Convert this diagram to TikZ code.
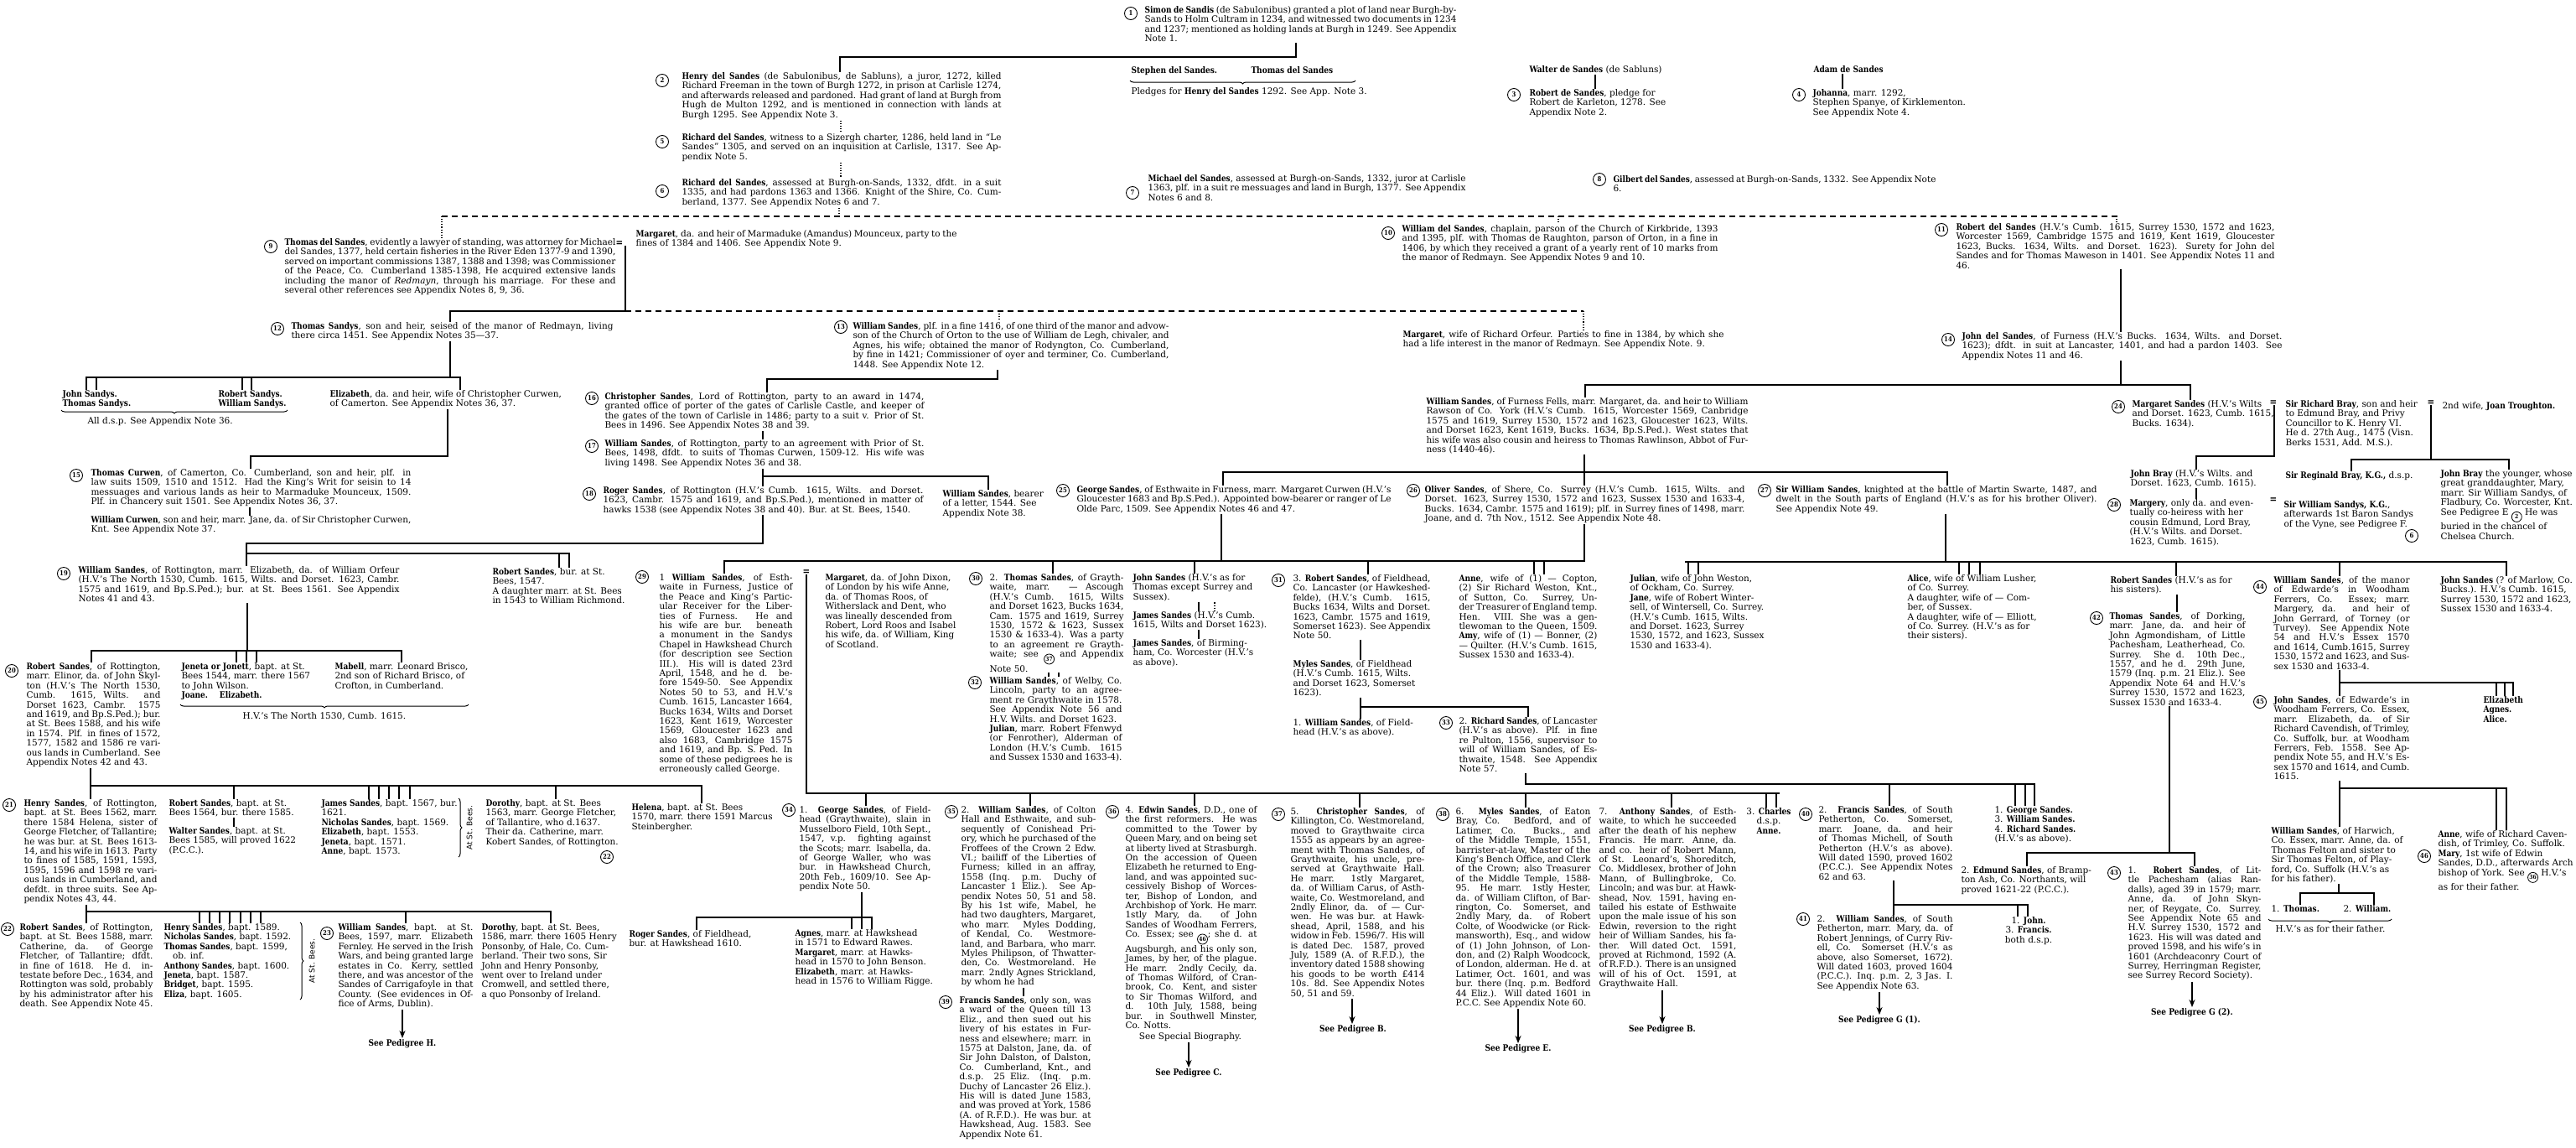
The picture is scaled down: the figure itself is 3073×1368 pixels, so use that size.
\documentclass[tikz,border=0pt]{standalone}
\usepackage{fontspec}
\setmainfont{DejaVu Serif}[BoldFeatures={FakeStretch=0.86}]
\newfontfamily\sansf{DejaVu Sans}
\usetikzlibrary{decorations.pathreplacing,arrows.meta}
\newcommand\pfont{\fontsize{10.5}{11.4}\selectfont\tolerance=9999\emergencystretch=6pt\hyphenpenalty=20\relax}
\newcommand\cnum[1]{\tikz[baseline=-3pt]\node[draw,circle,inner sep=0.3pt,minimum size=12pt,line width=0.8pt,font=\fontsize{7}{7}\selectfont\bfseries]{#1};}
\newcommand\Pdrop[3]{\coordinate (q) at (#1,#2);\draw[ln] (q) -- (q |- #3.north);}
\newcommand\Prise[3]{\coordinate (q) at (#1,#2);\draw[ln] (q |- #3.south) -- (q);}
\newcommand\Pvv[3]{\coordinate (q) at (#1,0);\draw[ln] (q |- #2.south) -- (q |- #3.north);}
\newcommand\Pbus[3]{\coordinate (qa) at (#1,#3);\coordinate (qb) at (#2,#3);\draw[ln] (qa) -- (qb);}
\newcommand\Parr[3]{\coordinate (q) at (#1,0);\draw[arr] (q |- #2.south) -- (q |- #3.north);}
\begin{document}
\begin{tikzpicture}[x=1pt,y=-1pt,
 txt/.style={anchor=north west,inner sep=0pt,outer sep=1.5pt,text width=#1pt,align=justify,font=\pfont},
 lft/.style={anchor=north west,inner sep=0pt,outer sep=1.5pt,align=left,font=\pfont},
 ctr/.style={anchor=north,inner sep=0pt,outer sep=1.5pt,align=center,font=\pfont},
 num/.style={draw,circle,inner sep=0pt,minimum size=15pt,line width=0.9pt,font=\fontsize{8}{8}\selectfont\bfseries},
 eq/.style={inner sep=0pt,font=\fontsize{12}{12}\selectfont\bfseries},
 ln/.style={line width=1.2pt,line cap=rect},
 dsh/.style={line width=1.2pt,dash pattern=on 7pt off 5pt},
 dtt/.style={line width=1.1pt,dotted},
 brc/.style={decorate,decoration={brace,mirror,amplitude=4pt},line width=1pt},
 vbrc/.style={decorate,decoration={brace,amplitude=4pt},line width=1pt},
 arr/.style={line width=1.3pt,-{Stealth[length=9pt,width=7pt]}},
 rot/.style={rotate=90,inner sep=0pt,font=\sansf\fontsize{9}{9}\selectfont}]
\fill[white] (0,0) rectangle (3073,1368);
\useasboundingbox (0,0) rectangle (3073,1368);

% ---------------- early generations
\node[num] (c1) at (1349,16) {1};
\node[txt=372] (n1) at (1364,6) {\textbf{Simon de Sandis} (de Sabulonibus) granted a plot of land near Burgh-by-Sands to Holm Cultram in 1234, and witnessed two documents in 1234 and 1237; mentioned as holding lands at Burgh in 1249. See Appendix Note 1.};
\node[lft] (st) at (1348,78) {\textbf{Stephen del Sandes.}};
\node[lft] (th) at (1491,78) {\textbf{Thomas del Sandes}};
\node[lft] (pl) at (1348,103) {Pledges for \textbf{Henry del Sandes} 1292. See App. Note 3.};
\node[lft] (wa) at (1823,77) {\textbf{Walter de Sandes} (de Sabluns)};
\node[num] (c3) at (1806,113) {3};
\node[lft] (n3) at (1823,105) {\textbf{Robert de Sandes}, pledge for\\Robert de Karleton, 1278. See\\Appendix Note 2.};
\node[lft] (ad) at (2162,77) {\textbf{Adam de Sandes}};
\node[num] (c4) at (2146,113) {4};
\node[lft] (n4) at (2161,105) {\textbf{Johanna}, marr. 1292,\\Stephen Spanye, of Kirklementon.\\See Appendix Note 4.};
\node[num] (c2) at (790,96) {2};
\node[txt=381] (n2) at (812,85) {\textbf{Henry del Sandes} (de Sabulonibus, de Sabluns), a juror, 1272, killed Richard Freeman in the town of Burgh 1272, in prison at Carlisle 1274, and afterwards released and pardoned. Had grant of land at Burgh from Hugh de Multon 1292, and is mentioned in connection with lands at Burgh 1295. See Appendix Note 3.};
\node[num] (c5) at (790,169) {5};
\node[txt=381] (n5) at (812,158) {\textbf{Richard del Sandes}, witness to a Sizergh charter, 1286, held land in “Le Sandes” 1305, and served on an inquisition at Carlisle, 1317. See Appendix Note 5.};
\node[num] (c6) at (790,228) {6};
\node[txt=381] (n6) at (812,212) {\textbf{Richard del Sandes}, assessed at Burgh-on-Sands, 1332, dfdt. in a suit 1335, and had pardons 1363 and 1366. Knight of the Shire, Co. Cumberland, 1377. See Appendix Notes 6 and 7.};
\node[num] (c7) at (1351,230) {7};
\node[txt=379] (n7) at (1368,207) {\textbf{Michael del Sandes}, assessed at Burgh-on-Sands, 1332, juror at Carlisle 1363, plf. in a suit re messuages and land in Burgh, 1377. See Appendix Notes 6 and 8.};
\node[num] (c8) at (1908,214) {8};
\node[txt=385] (n8) at (1923,208) {\textbf{Gilbert del Sandes}, assessed at Burgh-on-Sands, 1332. See Appendix Note 6.};

\node[num] (c9) at (323,294) {9};
\node[txt=395] (n9) at (338,283) {\textbf{Thomas del Sandes}, evidently a lawyer of standing, was attorney for Michael del Sandes, 1377, held certain fisheries in the River Eden 1377-9 and 1390, served on important commissions 1387, 1388 and 1398; was Commissioner of the Peace, Co. Cumberland 1385-1398, He acquired extensive lands including the manor of \textit{Redmayn}, through his marriage. For these and several other references see Appendix Notes 8, 9, 36.};
\node[eq] (e9) at (739,291) {=};
\node[txt=383] (mm9) at (757,273) {\textbf{Margaret}, da. and heir of Marmaduke (Amandus) Mounceux, party to the fines of 1384 and 1406. See Appendix Note 9.};
\node[num] (c10) at (1656,278) {10};
\node[txt=377] (n10) at (1671,267) {\textbf{William del Sandes}, chaplain, parson of the Church of Kirkbride, 1393 and 1395, plf. with Thomas de Raughton, parson of Orton, in a fine in 1406, by which they received a grant of a yearly rent of 10 marks from the manor of Redmayn. See Appendix Notes 9 and 10.};
\node[num] (c11) at (2316,274) {11};
\node[txt=380] (n11) at (2332,265) {\textbf{Robert del Sandes} (H.V.'s Cumb. 1615, Surrey 1530, 1572 and 1623, Worcester 1569, Cambridge 1575 and 1619, Kent 1619, Gloucester 1623, Bucks. 1634, Wilts. and Dorset. 1623). Surety for John del Sandes and for Thomas Maweson in 1401. See Appendix Notes 11 and 46.};
\node[num] (c12) at (331,392) {12};
\node[txt=384] (n12) at (346,383) {\textbf{Thomas Sandys}, son and heir, seised of the manor of Redmayn, living there circa 1451. See Appendix Notes 35—37.};
\node[num] (c13) at (1003,390) {13};
\node[txt=377] (n13) at (1016,383) {\textbf{William Sandes}, plf. in a fine 1416, of one third of the manor and advowson of the Church of Orton to the use of William de Legh, chivaler, and Agnes, his wife; obtained the manor of Rodyngton, Co. Cumberland, by fine in 1421; Commissioner of oyer and terminer, Co. Cumberland, 1448. See Appendix Note 12.};
\node[txt=383] (mo) at (1672,393) {\textbf{Margaret}, wife of Richard Orfeur. Parties to fine in 1384, by which she had a life interest in the manor of Redmayn. See Appendix Note. 9.};
\node[num] (c14) at (2324,405) {14};
\node[txt=382] (n14) at (2339,395) {\textbf{John del Sandes}, of Furness (H.V.'s Bucks. 1634, Wilts. and Dorset. 1623); dfdt. in suit at Lancaster, 1401, and had a pardon 1403. See Appendix Notes 11 and 46.};

% ---------------- Rottington / Curwen
\node[lft] (jt) at (73,464) {\textbf{John Sandys.}\\\textbf{Thomas Sandys.}};
\node[lft] (rw) at (259,464) {\textbf{Robert Sandys.}\\\textbf{William Sandys.}};
\node[lft] (adsp) at (103,496) {All d.s.p. See Appendix Note 36.};
\node[lft] (el) at (392,464) {\textbf{Elizabeth}, da. and heir, wife of Christopher Curwen,\\of Camerton. See Appendix Notes 36, 37.};
\node[num] (c16) at (706,475) {16};
\node[txt=381] (n16) at (720,467) {\textbf{Christopher Sandes}, Lord of Rottington, party to an award in 1474, granted office of porter of the gates of Carlisle Castle, and keeper of the gates of the town of Carlisle in 1486; party to a suit v. Prior of St. Bees in 1496. See Appendix Notes 38 and 39.};
\node[num] (c17) at (706,532) {17};
\node[txt=381] (n17) at (720,523) {\textbf{William Sandes}, of Rottington, party to an agreement with Prior of St. Bees, 1498, dfdt. to suits of Thomas Curwen, 1509-12. His wife was living 1498. See Appendix Notes 36 and 38.};
\node[num] (c18) at (703,589) {18};
\node[txt=382] (n18) at (718,579) {\textbf{Roger Sandes}, of Rottington (H.V.'s Cumb. 1615, Wilts. and Dorset. 1623, Cambr. 1575 and 1619, and Bp.S.Ped.), mentioned in matter of hawks 1538 (see Appendix Notes 38 and 40). Bur. at St. Bees, 1540.};
\node[lft] (wsb) at (1123,583) {\textbf{William Sandes}, bearer\\of a letter, 1544. See\\Appendix Note 38.};
\node[num] (c15) at (91,567) {15};
\node[txt=382] (n15) at (107,558) {\textbf{Thomas Curwen}, of Camerton, Co. Cumberland, son and heir, plf. in law suits 1509, 1510 and 1512. Had the King's Writ for seisin to 14 messuages and various lands as heir to Marmaduke Mounceux, 1509. Plf. in Chancery suit 1501. See Appendix Notes 36, 37.};
\node[txt=382] (wc) at (107,614) {\textbf{William Curwen}, son and heir, marr. Jane, da. of Sir Christopher Curwen, Knt. See Appendix Note 37.};
\node[num] (c19) at (76,684) {19};
\node[txt=383] (n19) at (92,674) {\textbf{William Sandes}, of Rottington, marr. Elizabeth, da. of William Orfeur (H.V.'s The North 1530, Cumb. 1615, Wilts. and Dorset. 1623, Cambr. 1575 and 1619, and Bp.S.Ped.); bur. at St. Bees 1561. See Appendix Notes 41 and 43.};
\node[lft] (rsb) at (586,676) {\textbf{Robert Sandes}, bur. at St.\\Bees, 1547.\\A daughter marr. at St. Bees\\in 1543 to William Richmond.};
\node[num] (c20) at (14,800) {20};
\node[txt=160] (n20) at (30,789) {\textbf{Robert Sandes}, of Rottington, marr. Elinor, da. of John Skylton (H.V.'s The North 1530, Cumb. 1615, Wilts. and Dorset 1623, Cambr. 1575 and 1619, and Bp.S.Ped.); bur. at St. Bees 1588, and his wife in 1574. Plf. in fines of 1572, 1577, 1582 and 1586 re various lands in Cumberland. See Appendix Notes 42 and 43.};
\node[lft] (jen) at (215,789) {\textbf{Jeneta or Jonett}, bapt. at St.\\Bees 1544, marr. there 1567\\to John Wilson.\\\textbf{Joane.}\quad\ \textbf{Elizabeth.}};
\node[lft] (mab) at (398,789) {\textbf{Mabell}, marr. Leonard Brisco,\\2nd son of Richard Brisco, of\\Crofton, in Cumberland.};
\node[ctr] (hv1) at (387,848) {H.V.'s The North 1530, Cumb. 1615.};
\node[num] (c21) at (11,960) {21};
\node[txt=159] (n21) at (27,952) {\textbf{Henry Sandes}, of Rottington, bapt. at St. Bees 1562, marr. there 1584 Helena, sister of George Fletcher, of Tallantire; he was bur. at St. Bees 1613-14, and his wife in 1613. Party to fines of 1585, 1591, 1593, 1595, 1596 and 1598 re various lands in Cumberland, and defdt. in three suits. See Appendix Notes 43, 44.};
\node[lft] (rs2) at (200,952) {\textbf{Robert Sandes}, bapt. at St.\\Bees 1564, bur. there 1585.};
\node[lft] (wal) at (200,985) {\textbf{Walter Sandes}, bapt. at St.\\Bees 1585, will proved 1622\\(P.C.C.).};
\node[lft] (jam) at (382,952) {\textbf{James Sandes}, bapt. 1567, bur.\\1621.\\\textbf{Nicholas Sandes}, bapt. 1569.\\\textbf{Elizabeth}, bapt. 1553.\\\textbf{Jeneta}, bapt. 1571.\\\textbf{Anne}, bapt. 1573.};
\node[rot] (asb1) at (560,987) {At St. Bees.};
\node[lft] (dor1) at (578,952) {\textbf{Dorothy}, bapt. at St. Bees\\1563, marr. George Fletcher,\\of Tallantire, who d.1637.\\Their da. Catherine, marr.\\Kobert Sandes, of Rottington.};
\node[num] (c22b) at (724,1022) {22};
\node[lft] (hel) at (752,957) {\textbf{Helena}, bapt. at St. Bees\\1570, marr. there 1591 Marcus\\Steinbergher.};
\node[num] (c22) at (9,1108) {22};
\node[txt=159] (n22) at (22,1100) {\textbf{Robert Sandes}, of Rottington, bapt. at St. Bees 1588, marr. Catherine, da. of George Fletcher, of Tallantire; dfdt. in fine of 1618. He d. intestate before Dec., 1634, and Rottington was sold, probably by his administrator after his death. See Appendix Note 45.};
\node[lft] (hen) at (194,1100) {\textbf{Henry Sandes}, bapt. 1589.\\\textbf{Nicholas Sandes}, bapt. 1592.\\\textbf{Thomas Sandes}, bapt. 1599,\\\quad ob. inf.\\\textbf{Anthony Sandes}, bapt. 1600.\\\textbf{Jeneta}, bapt. 1587.\\\textbf{Bridget}, bapt. 1595.\\\textbf{Eliza}, bapt. 1605.};
\node[rot] (asb2) at (372,1146) {At St. Bees.};
\node[num] (c23) at (390,1113) {23};
\node[txt=161] (n23) at (402,1100) {\textbf{William Sandes}, bapt. at St. Bees, 1597, marr. Elizabeth Fernley. He served in the Irish Wars, and being granted large estates in Co. Kerry, settled there, and was ancestor of the Sandes of Carrigafoyle in that County. (See evidences in Office of Arms, Dublin).};
\node[ctr] (ph) at (480,1238) {\textbf{See Pedigree H.}};
\node[lft] (dor2) at (573,1100) {\textbf{Dorothy}, bapt. at St. Bees,\\1586, marr. there 1605 Henry\\Ponsonby, of Hale, Co. Cum-\\berland. Their two sons, Sir\\John and Henry Ponsonby,\\went over to Ireland under\\Cromwell, and settled there,\\a quo Ponsonby of Ireland.};
\node[lft] (rog) at (749,1108) {\textbf{Roger Sandes}, of Fieldhead,\\bur. at Hawkshead 1610.};

% ---------------- Furness
\node[txt=384] (ff) at (1700,473) {\textbf{William Sandes}, of Furness Fells, marr. Margaret, da. and heir to William Rawson of Co. York (H.V.'s Cumb. 1615, Worcester 1569, Canbridge 1575 and 1619, Surrey 1530, 1572 and 1623, Gloucester 1623, Wilts. and Dorset 1623, Kent 1619, Bucks. 1634, Bp.S.Ped.). West states that his wife was also cousin and heiress to Thomas Rawlinson, Abbot of Furness (1440-46).};
\node[num] (c24) at (2527,485) {24};
\node[lft] (n24) at (2542,476) {\textbf{Margaret Sandes} (H.V.'s Wilts\\and Dorset. 1623, Cumb. 1615,\\Bucks. 1634).};
\node[eq] (e24) at (2712,481) {=};
\node[lft] (srb) at (2725,476) {\textbf{Sir Richard Bray}, son and heir\\to Edmund Bray, and Privy\\Councillor to K. Henry VI.\\He d. 27th Aug., 1475 (Visn.\\Berks 1531, Add. M.S.).};
\node[eq] (e2) at (2900,481) {=};
\node[lft] (jt2) at (2912,478) {2nd wife, \textbf{Joan Troughton.}};
\node[lft] (jb) at (2540,559) {\textbf{John Bray} (H.V.'s Wilts. and\\Dorset. 1623, Cumb. 1615).};
\node[lft] (reg) at (2725,561) {\textbf{Sir Reginald Bray, K.G.,} d.s.p.};
\node[lft] (jby) at (2910,559) {\textbf{John Bray} the younger, whose\\great granddaughter, Mary,\\marr. Sir William Sandys, of\\Fladbury, Co. Worcester, Knt.\\See Pedigree E \cnum{2}\ He was\\buried in the chancel of\\Chelsea Church.};
\node[num] (c28) at (2522,602) {28};
\node[lft] (n28) at (2539,594) {\textbf{Margery}, only da. and even-\\tually co-heiress with her\\cousin Edmund, Lord Bray,\\(H.V.'s Wilts. and Dorset.\\1623, Cumb. 1615).};
\node[eq] (e28) at (2712,597) {=};
\node[lft] (sws) at (2723,596) {\textbf{Sir William Sandys, K.G.},\\afterwards 1st Baron Sandys\\of the Vyne, see Pedigree F.};
\node[num] (c6b) at (2877,639) {6};
\node[num] (c25) at (1268,585) {25};
\node[txt=375] (n25) at (1283,578) {\textbf{George Sandes}, of Esthwaite in Furness, marr. Margaret Curwen (H.V.'s Gloucester 1683 and Bp.S.Ped.). Appointed bow-bearer or ranger of Le Olde Parc, 1509. See Appendix Notes 46 and 47.};
\node[num] (c26) at (1686,585) {26};
\node[txt=382] (n26) at (1698,578) {\textbf{Oliver Sandes}, of Shere, Co. Surrey (H.V.'s Cumb. 1615, Wilts. and Dorset. 1623, Surrey 1530, 1572 and 1623, Sussex 1530 and 1633-4, Bucks. 1634, Cambr. 1575 and 1619); plf. in Surrey fines of 1498, marr. Joane, and d. 7th Nov., 1512. See Appendix Note 48.};
\node[num] (c27) at (2105,585) {27};
\node[txt=383] (n27) at (2117,578) {\textbf{Sir William Sandes}, knighted at the battle of Martin Swarte, 1487, and dwelt in the South parts of England (H.V.'s as for his brother Oliver). See Appendix Note 49.};

\node[num] (c29) at (766,688) {29};
\node[txt=159] (n29) at (785,683) {1 \textbf{William Sandes}, of Esthwaite in Furness, Justice of the Peace and King's Particular Receiver for the Liberties of Furness. He and his wife are bur. beneath a monument in the Sandys Chapel in Hawkshead Church (for description see Section III.). His will is dated 23rd April, 1548, and he d. before 1549-50. See Appendix Notes 50 to 53, and H.V.'s Cumb. 1615, Lancaster 1664, Bucks 1634, Wilts and Dorset 1623, Kent 1619, Worcester 1569, Gloucester 1623 and also 1683, Cambridge 1575 and 1619, and Bp. S. Ped. In some of these pedigrees he is erroneously called George.};
\node[eq] (e29) at (962,683) {=};
\node[lft] (mdx) at (983,683) {\textbf{Margaret}, da. of John Dixon,\\of London by his wife Anne,\\da. of Thomas Roos, of\\Witherslack and Dent, who\\was lineally descended from\\Robert, Lord Roos and Isabel\\his wife, da. of William, King\\of Scotland.};
\node[num] (c30) at (1164,690) {30};
\node[txt=160] (n30) at (1179,683) {2. \textbf{Thomas Sandes}, of Graythwaite, marr. — Ascough (H.V.'s Cumb. 1615, Wilts and Dorset 1623, Bucks 1634, Cam. 1575 and 1619, Surrey 1530, 1572 \& 1623, Sussex 1530 \& 1633-4). Was a party to an agreement re Graythwaite; see \cnum{37} and Appendix Note 50.};
\node[num] (c32) at (1163,814) {32};
\node[txt=158] (n32) at (1179,806) {\textbf{William Sandes}, of Welby, Co. Lincoln, party to an agreement re Graythwaite in 1578. See Appendix Note 56 and H.V. Wilts. and Dorset 1623.\\\textbf{Julian}, marr. Robert Ffenwyd (or Fenrother), Alderman of London (H.V.'s Cumb. 1615 and Sussex 1530 and 1633-4).};
\node[lft] (jsn) at (1350,683) {\textbf{John Sandes} (H.V.'s as for\\Thomas except Surrey and\\Sussex).};
\node[lft] (js2) at (1350,728) {\textbf{James Sandes} (H.V.'s Cumb.\\1615, Wilts and Dorset 1623).};
\node[lft] (js3) at (1350,761) {\textbf{James Sandes}, of Birming-\\ham, Co. Worcester (H.V.'s\\as above).};
\node[num] (c31) at (1525,692) {31};
\node[txt=164] (n31) at (1541,684) {3. \textbf{Robert Sandes}, of Fieldhead, Co. Lancaster (or Hawkeshedfelde), (H.V.'s Cumb. 1615, Bucks 1634, Wilts and Dorset. 1623, Cambr. 1575 and 1619, Somerset 1623). See Appendix Note 50.};
\node[lft] (mys) at (1541,786) {\textbf{Myles Sandes}, of Fieldhead\\(H.V.'s Cumb. 1615, Wilts.\\and Dorset 1623, Somerset\\1623).};
\node[lft] (w1f) at (1541,856) {1. \textbf{William Sandes}, of Field-\\head (H.V.'s as above).};
\node[num] (c33) at (1725,862) {33};
\node[txt=165] (n33) at (1739,854) {2. \textbf{Richard Sandes}, of Lancaster (H.V.'s as above). Plf. in fine re Pulton, 1556, supervisor to will of William Sandes, of Esthwaite, 1548. See Appendix Note 57.};
\node[txt=165] (anne) at (1739,684) {\textbf{Anne}, wife of (1) — Copton, (2) Sir Richard Weston, Knt., of Sutton, Co. Surrey, Under Treasurer of England temp. Hen. VIII. She was a gentlewoman to the Queen, 1509. \textbf{Amy}, wife of (1) — Bonner, (2) — Quilter. (H.V.'s Cumb. 1615, Sussex 1530 and 1633-4).};
\node[lft] (jul) at (1943,684) {\textbf{Julian}, wife of John Weston,\\of Ockham, Co. Surrey.\\\textbf{Jane}, wife of Robert Winter-\\sell, of Wintersell, Co. Surrey.\\(H.V.'s Cumb. 1615, Wilts.\\and Dorset. 1623, Surrey\\1530, 1572, and 1623, Sussex\\1530 and 1633-4).};
\node[lft] (ali) at (2274,684) {\textbf{Alice}, wife of William Lusher,\\of Co. Surrey.\\A daughter, wife of — Com-\\ber, of Sussex.\\A daughter, wife of — Elliott,\\of Co. Surrey. (H.V.'s as for\\their sisters).};
\node[lft] (rs3) at (2516,686) {\textbf{Robert Sandes} (H.V.'s as for\\his sisters).};
\node[num] (c42) at (2501,737) {42};
\node[txt=162] (n42) at (2515,729) {\textbf{Thomas Sandes}, of Dorking, marr. Jane, da. and heir of John Agmondisham, of Little Pachesham, Leatherhead, Co. Surrey. She d. 10th Dec., 1557, and he d. 29th June, 1579 (Inq. p.m. 21 Eliz.). See Appendix Note 64 and H.V.'s Surrey 1530, 1572 and 1623, Sussex 1530 and 1633-4.};
\node[num] (c44) at (2696,700) {44};
\node[txt=162] (n44) at (2711,686) {\textbf{William Sandes}, of the manor of Edwarde's in Woodham Ferrers, Co. Essex; marr. Margery, da. and heir of John Gerrard, of Torney (or Turvey). See Appendix Note 54 and H.V.'s Essex 1570 and 1614, Cumb.1615, Surrey 1530, 1572 and 1623, and Sussex 1530 and 1633-4.};
\node[lft] (jsm) at (2910,686) {\textbf{John Sandes} (? of Marlow, Co.\\Bucks.). H.V.'s Cumb. 1615,\\Surrey 1530, 1572 and 1623,\\Sussex 1530 and 1633-4.};
\node[num] (c45) at (2696,837) {45};
\node[txt=162] (n45) at (2711,829) {\textbf{John Sandes}, of Edwarde's in Woodham Ferrers, Co. Essex, marr. Elizabeth, da. of Sir Richard Cavendish, of Trimley, Co. Suffolk, bur. at Woodham Ferrers, Feb. 1558. See Appendix Note 55, and H.V.'s Essex 1570 and 1614, and Cumb. 1615.};
\node[lft] (eaa) at (2961,829) {\textbf{Elizabeth}\\\textbf{Agnes.}\\\textbf{Alice.}};
\node[lft] (wsh) at (2708,985) {\textbf{William Sandes}, of Harwich,\\Co. Essex, marr. Anne, da. of\\Thomas Felton and sister to\\Sir Thomas Felton, of Play-\\ford, Co. Suffolk (H.V.'s as\\for his father).};
\node[lft] (t1) at (2708,1078) {1. \textbf{Thomas.}};
\node[lft] (w2) at (2794,1078) {2. \textbf{William.}};
\node[ctr] (hvf) at (2780,1102) {H.V.'s as for their father.};
\node[num] (c46) at (2892,1021) {46};
\node[lft] (n46t) at (2907,989) {\textbf{Anne}, wife of Richard Caven-\\dish, of Trimley, Co. Suffolk.\\\textbf{Mary}, 1st wife of Edwin\\Sandes, D.D., afterwards Arch\\bishop of York. See \cnum{36} H.V.'s\\as for their father.};

% ---------------- sons of William of Esthwaite
\node[num] (c34) at (941,966) {34};
\node[txt=157] (n34) at (952,960) {1. \textbf{George Sandes}, of Fieldhead (Graythwaite), slain in Musselboro Field, 10th Sept., 1547, v.p. fighting against the Scots; marr. Isabella, da. of George Waller, who was bur. in Hawkshead Church, 20th Feb., 1609/10. See Appendix Note 50.};
\node[lft] (agn) at (947,1107) {\textbf{Agnes}, marr. at Hawkshead\\in 1571 to Edward Rawes.\\\textbf{Margaret}, marr. at Hawks-\\head in 1570 to John Benson.\\\textbf{Elizabeth}, marr. at Hawks-\\head in 1576 to William Rigge.};
\node[num] (c35) at (1135,968) {35};
\node[txt=161] (n35) at (1145,960) {2. \textbf{William Sandes}, of Colton Hall and Esthwaite, and subsequently of Conishead Priory, which he purchased of the Froffees of the Crown 2 Edw. VI.; bailiff of the Liberties of Furness; killed in an affray, 1558 (Inq. p.m. Duchy of Lancaster 1 Eliz.). See Appendix Notes 50, 51 and 58. By his 1st wife, Mabel, he had two daughters, Margaret, who marr. Myles Dodding, of Kendal, Co. Westmoreland, and Barbara, who marr. Myles Philipson, of Thwatterden, Co. Westmoreland. He marr. 2ndly Agnes Strickland, by whom he had};
\node[num] (c39) at (1128,1195) {39};
\node[txt=157] (n39) at (1143,1187) {\textbf{Francis Sandes}, only son, was a ward of the Queen till 13 Eliz., and then sued out his livery of his estates in Furness and elsewhere; marr. in 1575 at Dalston, Jane, da. of Sir John Dalston, of Dalston, Co. Cumberland, Knt., and d.s.p. 25 Eliz. (Inq. p.m. Duchy of Lancaster 26 Eliz.). His will is dated June 1583, and was proved at York, 1586 (A. of R.F.D.). He was bur. at Hawkshead, Aug. 1583. See Appendix Note 61.};
\node[num] (c36) at (1327,968) {36};
\node[txt=157] (n36) at (1341,960) {4. \textbf{Edwin Sandes}, D.D., one of the first reformers. He was committed to the Tower by Queen Mary, and on being set at liberty lived at Strasburgh. On the accession of Queen Elizabeth he returned to England, and was appointed successively Bishop of Worcester, Bishop of London, and Archbishop of York. He marr. 1stly Mary, da. of John Sandes of Woodham Ferrers, Co. Essex; see \cnum{46}; she d. at Augsburgh, and his only son, James, by her, of the plague. He marr. 2ndly Cecily, da. of Thomas Wilford, of Cranbrook, Co. Kent, and sister to Sir Thomas Wilford, and d. 10th July, 1588, being bur. in Southwell Minster, Co. Notts.};
\node[ctr] (sb) at (1420,1230) {See Special Biography.};
\node[ctr] (pc) at (1418,1273) {\textbf{See Pedigree C.}};
\node[num] (c37) at (1525,971) {37};
\node[txt=160] (n37) at (1538,962) {5. \textbf{Christopher Sandes}, of Killington, Co. Westmoreland, moved to Graythwaite circa 1555 as appears by an agreement with Thomas Sandes, of Graythwaite, his uncle, preserved at Graythwaite Hall. He marr. 1stly Margaret, da. of William Carus, of Asthwaite, Co. Westmoreland, and 2ndly Elinor, da. of — Curwen. He was bur. at Hawkshead, April, 1588, and his widow in Feb. 1596/7. His will is dated Dec. 1587, proved July, 1589 (A. of R.F.D.), the inventory dated 1588 showing his goods to be worth £414 10s. 8d. See Appendix Notes 50, 51 and 59.};
\node[ctr] (pb1) at (1614,1221) {\textbf{See Pedigree B.}};
\node[num] (c38) at (1721,971) {38};
\node[txt=161] (n38) at (1735,962) {6. \textbf{Myles Sandes}, of Eaton Bray, Co. Bedford, and of Latimer, Co. Bucks., and of the Middle Temple, 1551, barrister-at-law, Master of the King's Bench Office, and Clerk of the Crown; also Treasurer of the Middle Temple, 1588-95. He marr. 1stly Hester, da. of William Clifton, of Barrington, Co. Somerset, and 2ndly Mary, da. of Robert Colte, of Woodwicke (or Rickmansworth), Esq., and widow of (1) John Johnson, of London, and (2) Ralph Woodcock, of London, alderman. He d. at Latimer, Oct. 1601, and was bur. there (Inq. p.m. Bedford 44 Eliz.). Will dated 1601 in P.C.C. See Appendix Note 60.};
\node[ctr] (pe) at (1811,1244) {\textbf{See Pedigree E.}};
\node[txt=164] (ant) at (1906,962) {7. \textbf{Anthony Sandes}, of Esthwaite, to which he succeeded after the death of his nephew Francis. He marr. Anne, da. and co. heir of Robert Mann, of St. Leonard's, Shoreditch, Co. Middlesex, brother of John Mann, of Bullingbroke, Co. Lincoln; and was bur. at Hawkshead, Nov. 1591, having entailed his estate of Esthwaite upon the male issue of his son Edwin, reversion to the right heir of William Sandes, his father. Will dated Oct. 1591, proved at Richmond, 1592 (A. of R.F.D.). There is an unsigned will of his of Oct. 1591, at Graythwaite Hall.};
\node[ctr] (pb2) at (1983,1221) {\textbf{See Pedigree B.}};
\node[ctr] (cha) at (2110,962) {3. \textbf{Charles}\\d.s.p.\\\textbf{Anne.}};
\node[num] (c40) at (2154,971) {40};
\node[txt=160] (n40) at (2168,960) {2. \textbf{Francis Sandes}, of South Petherton, Co. Somerset, marr. Joane, da. and heir of Thomas Michell, of South Petherton (H.V.'s as above). Will dated 1590, proved 1602 (P.C.C.). See Appendix Notes 62 and 63.};
\node[lft] (geo) at (2378,960) {1. \textbf{George Sandes.}\\3. \textbf{William Sandes.}\\4. \textbf{Richard Sandes.}\\(H.V.'s as above).};
\node[num] (c41) at (2151,1096) {41};
\node[txt=162] (n41) at (2166,1090) {2. \textbf{William Sandes}, of South Petherton, marr. Mary, da. of Robert Jennings, of Curry Rivell, Co. Somerset (H.V.'s as above, also Somerset, 1672). Will dated 1603, proved 1604 (P.C.C.). Inq. p.m. 2, 3 Jas. I. See Appendix Note 63.};
\node[ctr] (pg1) at (2242,1210) {\textbf{See Pedigree G (1).}};
\node[ctr] (jfr) at (2420,1092) {1. \textbf{John.}\\3. \textbf{Francis.}\\both d.s.p.};
\node[lft] (edm) at (2338,1032) {2. \textbf{Edmund Sandes}, of Bramp-\\ton Ash, Co. Northants, will\\proved 1621-22 (P.C.C.).};
\node[num] (c43) at (2522,1041) {43};
\node[txt=159] (n43) at (2537,1032) {1. \textbf{Robert Sandes}, of Little Pachesham (alias Randalls), aged 39 in 1579; marr. Anne, da. of John Skynner, of Reygate, Co. Surrey. See Appendix Note 65 and H.V. Surrey 1530, 1572 and 1623. His will was dated and proved 1598, and his wife's in 1601 (Archdeaconry Court of Surrey, Herringman Register, see Surrey Record Society).};
\node[ctr] (pg2) at (2615,1201) {\textbf{See Pedigree G (2).}};

% ---------------- connectors
\Prise{1546}{68}{n1}\Pbus{1002}{1546}{68}\Pdrop{1002}{68}{n2}
\coordinate (q) at (1003,0);\draw[dtt] (q |- n2.south) -- (q |- n5.north);
\coordinate (q) at (1003,0);\draw[dtt] (q |- n5.south) -- (q |- n6.north);
\Pvv{1903}{wa}{n3}\Pvv{2198}{ad}{n4}
\draw[brc] (1348,96) -- (1617,96);
\coordinate (da) at (527,258);\coordinate (db) at (2527,258);\draw[dsh] (da) -- (db);
\coordinate (q) at (1001,258);\draw[dtt] (q |- n6.south) -- (q);
\draw[dtt] (da) -- (da |- n9.north);
\coordinate (q) at (1859,258);\draw[dtt] (q) -- (q |- n10.north);
\coordinate (q) at (2525,258);\draw[dtt] (q) -- (q |- n11.north);
\coordinate (m9) at (746,371);\draw[ln] (m9 |- e9.south) -- (m9);
\Pbus{537}{746}{371}\Pdrop{537}{371}{n12}
\coordinate (dc) at (1889,371);\draw[dsh] (m9) -- (dc);\draw[dtt] (dc) -- (dc |- mo.north);
\coordinate (q) at (1192,371);\draw[dtt] (q) -- (q |- n13.north);
\Prise{537}{450}{n12}\Pbus{103}{549}{450}
\Pdrop{103}{450}{jt}\Pdrop{115}{450}{jt}\Pdrop{289}{450}{rw}\Pdrop{300}{450}{rw}\Pdrop{549}{450}{el}
\draw[brc] (73,489) -- (343,489);
\Prise{534}{544}{el}\Pbus{299}{534}{544}\Pdrop{299}{544}{n15}\Pvv{298}{n15}{wc}
\Prise{1190}{452}{n13}\Pbus{915}{1190}{452}\Pdrop{915}{452}{n16}\Pvv{910}{n16}{n17}
\Prise{910}{568}{n17}\Pbus{910}{1179}{568}\Pdrop{1179}{568}{wsb}\Pdrop{910}{568}{n18}
\Prise{910}{648}{n18}\Pbus{294}{910}{648}\Pdrop{294}{648}{n19}\Pbus{294}{679}{660}\Pdrop{667}{660}{rsb}\Pdrop{679}{660}{rsb}
\Prise{295}{776}{n19}\Pbus{109}{479}{776}\Pdrop{109}{776}{n20}\Pdrop{282}{776}{jen}\Pdrop{294}{776}{jen}\Pdrop{306}{776}{jen}\Pdrop{479}{776}{mab}
\draw[brc] (215,840) -- (559,840);
\Prise{108}{937}{n20}\Pbus{108}{837}{937}\Pdrop{108}{937}{n21}\Pdrop{279}{937}{rs2}
\Pdrop{440}{937}{jam}\Pdrop{452}{937}{jam}\Pdrop{464}{937}{jam}\Pdrop{476}{937}{jam}\Pdrop{489}{937}{jam}
\Pdrop{663}{937}{dor1}\Pdrop{837}{937}{hel}\Pvv{279}{rs2}{wal}
\draw[vbrc] (547,952) -- (547,1022);
\Prise{103}{1087}{n21}\Pbus{103}{657}{1087}\Pdrop{103}{1087}{n22}
\Pdrop{238}{1087}{hen}\Pdrop{250}{1087}{hen}\Pdrop{262}{1087}{hen}\Pdrop{274}{1087}{hen}\Pdrop{287}{1087}{hen}\Pdrop{299}{1087}{hen}\Pdrop{311}{1087}{hen}
\Pdrop{484}{1087}{n23}\Pdrop{657}{1087}{dor2}
\draw[vbrc] (358,1100) -- (358,1192);
\Parr{480}{n23}{ph}
\Pvv{2530}{n11}{n14}\Prise{2530}{459}{n14}\Pbus{1891}{2613}{459}\Pdrop{1891}{459}{ff}\Pdrop{2613}{459}{n24}
\Prise{1890}{563}{ff}\Pbus{1459}{2323}{563}\Pdrop{1459}{563}{n25}\Pdrop{1890}{563}{n26}\Pdrop{2323}{563}{n27}
\Prise{1457}{669}{n25}\Prise{1890}{669}{n26}\Pbus{864}{1890}{669}
\Pdrop{864}{669}{n29}\Pdrop{1256}{669}{n30}\Pdrop{1425}{669}{jsn}\Pdrop{1632}{669}{n31}\Pdrop{1830}{669}{anne}\Pdrop{1842}{669}{anne}
\Prise{2321}{670}{n27}\Pbus{2011}{2990}{670}
\Pdrop{2014}{670}{jul}\Pdrop{2026}{670}{jul}\Pdrop{2337}{670}{ali}\Pdrop{2349}{670}{ali}\Pdrop{2362}{670}{ali}
\Pdrop{2596}{670}{rs3}\Pdrop{2791}{670}{n44}\Pdrop{2990}{670}{jsm}
\Prise{2713}{544}{e24}\Pbus{2620}{2713}{544}\Pdrop{2620}{544}{jb}\Pvv{2620}{jb}{n28}
\Prise{2900}{548}{e2}\Pbus{2805}{2993}{548}\Pdrop{2805}{548}{reg}\Pdrop{2993}{548}{jby}
\Pvv{2597}{rs3}{n42}\Prise{2588}{1017}{n42}\Pbus{2418}{2618}{1017}\Pdrop{2418}{1017}{edm}\Pdrop{2618}{1017}{n43}
\Prise{2791}{814}{n44}\Pbus{2791}{2998}{814}\Pdrop{2791}{814}{n45}\Pdrop{2978}{814}{eaa}\Pdrop{2988}{814}{eaa}\Pdrop{2998}{814}{eaa}
\Prise{2791}{940}{n45}\Pbus{2791}{2990}{940}\Pdrop{2791}{940}{wsh}\Pdrop{2978}{940}{n46t}\Pdrop{2990}{940}{n46t}
\Prise{2790}{1065}{wsh}\Pbus{2744}{2832}{1065}\Pdrop{2744}{1065}{t1}\Pdrop{2832}{1065}{w2}
\draw[brc] (2706,1096) -- (2853,1096);
\Prise{962}{946}{e29}\Pbus{962}{2122}{946}
\Pdrop{1033}{946}{n34}\Pdrop{1229}{946}{n35}\Pdrop{1425}{946}{n36}\Pdrop{1622}{946}{n37}\Pdrop{1820}{946}{n38}\Pdrop{1994}{946}{ant}\Pdrop{2107}{946}{cha}\Pdrop{2119}{946}{cha}
\Pvv{1251}{n30}{n32}\Pvv{1263}{n30}{n32}
\Pvv{1430}{jsn}{js2}\Pvv{1430}{js2}{js3}
\coordinate (q) at (1449,0);\draw[dtt] (q |- jsn.south) -- (q |- js2.north);
\Pvv{1623}{n31}{mys}\Prise{1623}{843}{mys}\Pbus{1623}{1823}{843}\Pdrop{1623}{843}{w1f}\Pdrop{1823}{843}{n33}
\Prise{1820}{935}{n33}\Pbus{1820}{2427}{935}\Pdrop{2254}{935}{n40}\Pdrop{2404}{935}{geo}\Pdrop{2416}{935}{geo}\Pdrop{2427}{935}{geo}
\Prise{1028}{1094}{n34}\Pbus{831}{1040}{1094}\Pdrop{831}{1094}{rog}\Pdrop{1016}{1094}{agn}\Pdrop{1028}{1094}{agn}\Pdrop{1040}{1094}{agn}
\Pvv{1221}{n35}{n39}
\Parr{1418}{sb}{pc}\Parr{1613}{n37}{pb1}\Parr{1811}{n38}{pe}\Parr{1983}{ant}{pb2}\Parr{2242}{n41}{pg1}\Parr{2615}{n43}{pg2}
\Prise{2259}{1079}{n40}\Pbus{2259}{2419}{1079}\Pdrop{2259}{1079}{n41}\Pdrop{2407}{1079}{jfr}\Pdrop{2419}{1079}{jfr}
\end{tikzpicture}
\end{document}
